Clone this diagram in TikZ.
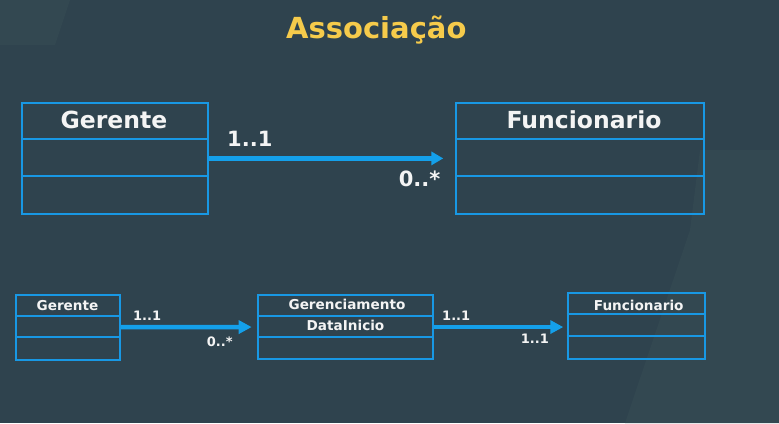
\documentclass[tikz,border=0pt]{standalone}
\usepackage{fontspec}
\setmainfont{DejaVu Sans}
\usetikzlibrary{arrows.meta}
\definecolor{bg}{HTML}{2F434E}
\definecolor{bgl}{HTML}{334851}
\definecolor{umlblue}{HTML}{1898E4}
\definecolor{arrowblue}{HTML}{14A0EA}
\definecolor{titleyellow}{HTML}{F6CB4B}
\definecolor{txt}{HTML}{F4F4F4}
\tikzset{
  classbox/.style={draw=umlblue, line width=1.8pt, inner sep=0pt, anchor=north west},
  sep/.style={draw=umlblue, line width=1.8pt},
  assoc/.style={draw=arrowblue, line width=5pt, -{Triangle[length=12pt,width=13pt]}},
  assocs/.style={draw=arrowblue, line width=4.5pt, -{Triangle[length=13pt,width=13pt]}},
  bigtxt/.style={text=txt, font=\bfseries\fontsize{23.5}{26}\selectfont, anchor=base, inner sep=0pt},
  smalltxt/.style={text=txt, font=\bfseries\fontsize{13.6}{15}\selectfont, anchor=base, inner sep=0pt},
  biglab/.style={text=txt, font=\bfseries\fontsize{21}{24}\selectfont, inner sep=0pt},
  smalllab/.style={text=txt, font=\bfseries\fontsize{13}{15}\selectfont, inner sep=0pt},
}
\begin{document}
\begin{tikzpicture}[x=1pt,y=-1pt]
\useasboundingbox (0,0) rectangle (779,423);
\fill[bg] (0,0) rectangle (779,423);
% faint background panels
\fill[bgl] (700,150) -- (779,150) -- (779,423) -- (625,423) -- (690,230) -- cycle;
\fill[bgl] (0,0) -- (70,0) -- (55,45) -- (0,45) -- cycle;

% title
\node[text=titleyellow, font=\bfseries\fontsize{29}{32}\selectfont, anchor=base, inner sep=0pt] (title) at (376.3,38.3) {Associação};

% ---- top diagram ----
\node[classbox, minimum width=185.7pt, minimum height=111.6pt] (g1) at (21,101.7) {};
\draw[sep] ([yshift=-37pt]g1.north west) -- ([yshift=-37pt]g1.north east);
\draw[sep] ([yshift=-74pt]g1.north west) -- ([yshift=-74pt]g1.north east);
\node[bigtxt] (g1t) at (114,128.3) {Gerente};

\node[classbox, minimum width=248.3pt, minimum height=111.6pt] (f1) at (455,101.7) {};
\draw[sep] ([yshift=-37pt]f1.north west) -- ([yshift=-37pt]f1.north east);
\draw[sep] ([yshift=-74pt]f1.north west) -- ([yshift=-74pt]f1.north east);
\node[bigtxt] (f1t) at (584,128.3) {Funcionario};

\draw[assoc, shorten >=11.7pt] (g1.east) -- (f1.west);
\node[biglab, anchor=base west] (m1) at (227,146.7) {1..1};
\node[biglab, anchor=base east] (m2) at (440.5,186.7) {0..*};

% ---- bottom diagram ----
\node[classbox, minimum width=104pt, minimum height=65pt] (g2) at (15,293.8) {};
\draw[sep] ([yshift=-21.8pt]g2.north west) -- ([yshift=-21.8pt]g2.north east);
\draw[sep] ([yshift=-43.5pt]g2.north west) -- ([yshift=-43.5pt]g2.north east);
\node[smalltxt] (g2t) at (67.5,310) {Gerente};

\node[classbox, minimum width=175pt, minimum height=64.3pt] (a2) at (257.3,294) {};
\draw[sep] ([yshift=-22pt]a2.north west) -- ([yshift=-22pt]a2.north east);
\draw[sep] ([yshift=-43.3pt]a2.north west) -- ([yshift=-43.3pt]a2.north east);
\node[smalltxt] (a2t) at (347,309) {Gerenciamento};
\node[smalltxt] (a2d) at (345.5,330) {DataInicio};

\node[classbox, minimum width=137.3pt, minimum height=65.4pt] (f2) at (566.7,292.3) {};
\draw[sep] ([yshift=-22pt]f2.north west) -- ([yshift=-22pt]f2.north east);
\draw[sep] ([yshift=-43.7pt]f2.north west) -- ([yshift=-43.7pt]f2.north east);
\node[smalltxt] (f2t) at (638.7,310) {Funcionario};

\draw[assocs, shorten >=5.6pt] (g2.east) -- (a2.west);
\draw[assocs, shorten >=3.4pt] (a2.east) -- (a2.east -| f2.west);
\node[smalllab, anchor=base west] (m3) at (133,320) {1..1};
\node[smalllab, anchor=base west] (m4) at (206.7,346) {0..*};
\node[smalllab, anchor=base west] (m5) at (442,320) {1..1};
\node[smalllab, anchor=base west] (m6) at (520.7,343.3) {1..1};
\end{tikzpicture}
\end{document}
